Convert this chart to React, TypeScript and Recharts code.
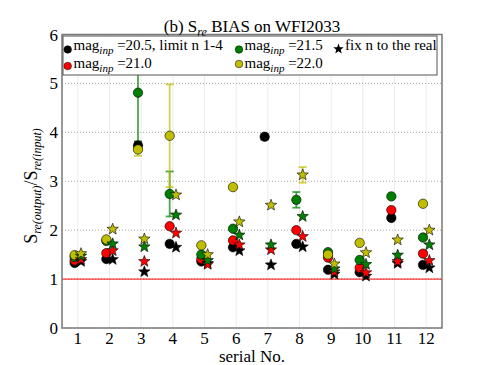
import { ScatterChart, Scatter, XAxis, YAxis, CartesianGrid, ReferenceLine, ErrorBar } from "recharts"

// serial numbers on the x axis
const serials = [1, 2, 3, 4, 5, 6, 7, 8, 9, 10, 11, 12]
const yTicks = [0, 1, 2, 3, 4, 5, 6]

// circles: free Sersic n fit, one array per input magnitude
const circ205 = [1.33, 1.41, 3.73, 1.72, 1.36, 1.65, 3.91, 1.72, 1.19, 1.14, 2.25, 1.29]
const circ210 = [1.38, 1.53, null, 2.08, 1.41, 1.79, null, 2.0, 1.44, 1.23, 2.41, 1.52]
const circ215 = [1.45, 1.78, 4.81, 2.74, 1.5, 2.03, null, 2.62, 1.55, 1.39, 2.69, 1.85]
const circ220 = [1.49, 1.81, 3.65, 3.93, 1.69, 2.88, null, null, 1.5, 1.74, null, 2.54]

// stars: n fixed to the real value
const star205 = [1.36, 1.4, 1.15, 1.65, 1.32, 1.58, 1.29, 1.66, 1.1, 1.06, 1.32, 1.23]
const star210 = [1.4, 1.58, 1.36, 1.94, 1.3, 1.7, 1.6, 1.87, 1.15, 1.13, 1.36, 1.38]
const star215 = [1.47, 1.72, 1.66, 2.31, 1.38, 1.9, 1.7, 2.28, 1.21, 1.3, 1.49, 1.7]
const star220 = [1.52, 2.02, 1.82, 2.72, 1.5, 2.17, 2.51, 3.13, 1.31, 1.54, 1.8, 2.0]

// error bars (null = none)
const errCirc205 = [null, null, 0.08, null, null, null, 0.06, null, null, null, null, null]
const errCirc215 = [null, null, 1.0, 0.46, null, null, null, 0.16, null, null, null, null]
const errCirc220 = [null, null, 0.13, 1.05, null, null, null, null, null, null, null, null]
const errStar220 = [null, null, null, null, null, null, null, 0.16, null, null, null, null]

const BLACK = "#000000"
const RED = "#ff0000"
const GREEN = "#008000"
const YELLOW = "#bfbf00"
const SERIF = "Liberation Serif, DejaVu Serif, serif"

const toPoints = (vals: (number | null)[], errs: (number | null)[] | null, dx: number) =>
  serials
    .map((s, i) => ({ x: s + dx, y: vals[i], err: errs && errs[i] != null ? errs[i] : undefined }))
    .filter((p) => p.y != null)

const starPath = (cx: number, cy: number, R: number, r: number) => {
  let d = ""
  for (let k = 0; k < 10; k++) {
    const rad = k % 2 === 0 ? R : r
    const a = -Math.PI / 2 + (k * Math.PI) / 5
    d += (k === 0 ? "M" : "L") + (cx + rad * Math.cos(a)).toFixed(2) + "," + (cy + rad * Math.sin(a)).toFixed(2)
  }
  return d + "Z"
}

const dotShape = (color: string) => (props: any) => {
  const { cx, cy } = props
  if (cx == null || cy == null) return <g />
  return <circle cx={cx} cy={cy} r={4.7} fill={color} stroke="#000" strokeWidth={0.6} />
}

const starShape = (color: string) => (props: any) => {
  const { cx, cy } = props
  if (cx == null || cy == null) return <g />
  return <path d={starPath(cx, cy, 6, 2.5)} fill={color} stroke="#000" strokeWidth={0.6} />
}

const circleSeries = [
  { name: "c205", vals: circ205, errs: errCirc205, color: BLACK },
  { name: "c210", vals: circ210, errs: null, color: RED },
  { name: "c215", vals: circ215, errs: errCirc215, color: GREEN },
  { name: "c220", vals: circ220, errs: errCirc220, color: YELLOW },
]
const starSeries = [
  { name: "s205", vals: star205, errs: null, color: BLACK },
  { name: "s210", vals: star210, errs: null, color: RED },
  { name: "s215", vals: star215, errs: null, color: GREEN },
  { name: "s220", vals: star220, errs: errStar220, color: YELLOW },
]

const tickStyle = { fontSize: 17, fill: "#000", fontFamily: SERIF }

// legend label: mag_inp =value
const MagLabel = ({ x, y, value }: { x: number; y: number; value: string }) => (
  <text x={x} y={y}>
    mag<tspan fontSize={11} fontStyle="italic" dy={4}>inp</tspan>
    <tspan dy={-4}> ={value}</tspan>
  </text>
)

function Overlay() {
  return (
    <svg width={491} height={365} style={{ position: "absolute", left: 0, top: 0, pointerEvents: "none", fontFamily: SERIF }}>
      <rect x={62} y={34.5} width={380} height={293.5} fill="none" stroke="#7a7a7a" strokeWidth={1.5} />
      {/* title */}
      <text x={252} y={32} textAnchor="middle" fontSize={17} fill="#000">
        (b) S<tspan fontSize={12} fontStyle="italic" dy={4}>re</tspan>
        <tspan dy={-4}> BIAS on WFI2033</tspan>
      </text>
      {/* y label */}
      <text transform="translate(37,186) rotate(-90)" textAnchor="middle" fontSize={18} fill="#000">
        S<tspan fontSize={12} fontStyle="italic" dy={4}>re(output)</tspan>
        <tspan dy={-4}>/S</tspan>
        <tspan fontSize={12} fontStyle="italic" dy={4}>re(input)</tspan>
      </text>
      {/* legend */}
      <rect x={63} y={36} width={374} height={39} fill="#fff" stroke="#555" strokeWidth={1} />
      <g fontSize={15} fill="#000">
        <circle cx={67.7} cy={49.5} r={3.8} fill={BLACK} stroke="#000" strokeWidth={0.5} />
        <MagLabel x={73.5} y={50} value="20.5, limit n 1-4" />
        <circle cx={67.7} cy={66} r={3.8} fill={RED} stroke="#000" strokeWidth={0.5} />
        <MagLabel x={73.5} y={68} value="21.0" />
        <circle cx={239} cy={49.5} r={3.8} fill={GREEN} stroke="#000" strokeWidth={0.5} />
        <MagLabel x={244.5} y={50} value="21.5" />
        <circle cx={239} cy={64} r={3.8} fill={YELLOW} stroke="#000" strokeWidth={0.5} />
        <MagLabel x={244.5} y={68} value="22.0" />
        <path d={starPath(338.5, 49, 5.5, 2.3)} fill="#000" />
        <text x={345} y={50}>fix n to the real</text>
      </g>
      {/* x label */}
      <text x={252} y={362} textAnchor="middle" fontSize={17} fill="#000">serial No.</text>
    </svg>
  )
}

export default function App() {
  return (
    <div style={{ position: "fixed", left: 0, top: 0, width: 491, height: 365, background: "#fff", fontFamily: SERIF }}>
      <ScatterChart width={491} height={365} margin={{ top: 34.5, right: 49, bottom: 7, left: 22 }} style={{ fontFamily: SERIF }}>
        <CartesianGrid horizontal={false} stroke="#d8d8d8" strokeDasharray="1 1" />
        <CartesianGrid vertical={false} stroke="#a8a8a8" strokeDasharray="1 2" />
        <XAxis
          dataKey="x"
          type="number"
          domain={[0.5, 12.5]}
          ticks={serials}
          height={30}
          tickLine={false}
          axisLine={false}
          tickSize={0}
          tickMargin={4}
          tick={tickStyle}
          allowDataOverflow
        />
        <YAxis
          dataKey="y"
          type="number"
          domain={[0, 6]}
          ticks={yTicks}
          width={40}
          tickLine={false}
          axisLine={false}
          tickSize={0}
          tickMargin={4}
          tick={tickStyle}
          allowDataOverflow
        />
        <ReferenceLine y={1} stroke={RED} strokeWidth={1} />
        {circleSeries.map((s) => (
          <Scatter key={s.name} name={s.name} data={toPoints(s.vals, s.errs, -0.1)} fill={s.color} shape={dotShape(s.color)} isAnimationActive={false}>
            {s.errs && <ErrorBar dataKey="err" direction="y" width={4} stroke={s.color} strokeOpacity={0.7} strokeWidth={1.8} />}
          </Scatter>
        ))}
        {starSeries.map((s) => (
          <Scatter key={s.name} name={s.name} data={toPoints(s.vals, s.errs, 0.1)} fill={s.color} shape={starShape(s.color)} isAnimationActive={false}>
            {s.errs && <ErrorBar dataKey="err" direction="y" width={4} stroke={s.color} strokeOpacity={0.7} strokeWidth={1.8} />}
          </Scatter>
        ))}
      </ScatterChart>
      <Overlay />
    </div>
  )
}
